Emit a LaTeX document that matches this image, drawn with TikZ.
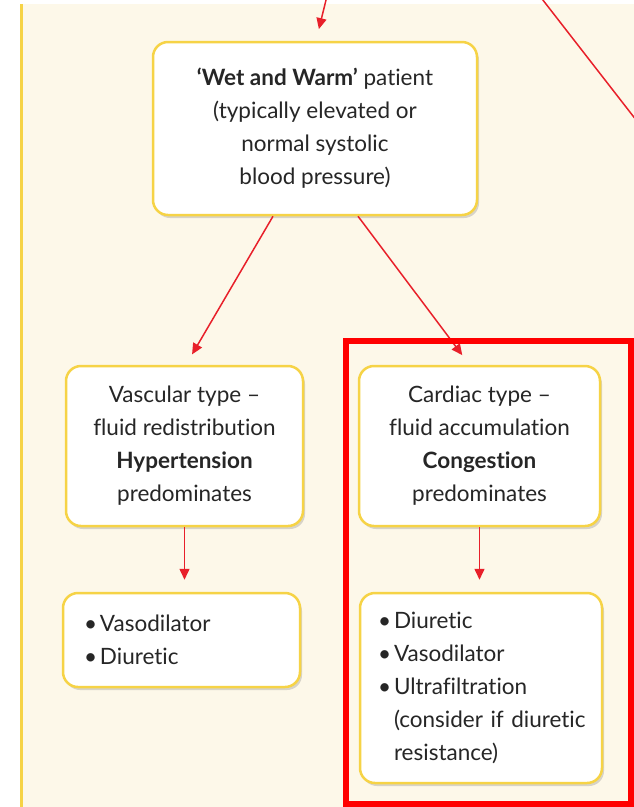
\documentclass[tikz,border=0pt]{standalone}
\usepackage{fontspec}
\setmainfont{Lato}[Ligatures=NoCommon]
\usetikzlibrary{arrows.meta,shadows,calc}
\definecolor{cream}{HTML}{FDF8E9}
\definecolor{boxyellow}{HTML}{F6D346}
\definecolor{arrred}{HTML}{E8202A}
\definecolor{framered}{HTML}{FF0000}
\definecolor{txt}{HTML}{262626}
\newcommand\bitem[1]{\mbox{\makebox[16pt][l]{•}#1}}
\newcommand\bcont[1]{\mbox{\hspace*{16pt}#1}}
\begin{document}
\begin{tikzpicture}[x=1pt,y=-1pt,
  box/.style={draw=boxyellow, line width=2.5pt, fill=white, rounded corners=15pt,
    drop shadow={shadow xshift=2pt, shadow yshift=-3pt, opacity=0.25, fill=black!60},
    font=\fontsize{22.5}{33}\selectfont, text=txt, align=center, inner sep=0pt},
  listbox/.style={box, align=left},
  arr/.style={draw=arrred, line width=1.5pt, -{Triangle[length=11pt,width=10pt]}, shorten >=12pt},
  plainred/.style={draw=arrred, line width=1.5pt}]
\useasboundingbox (0,0) rectangle (634,807);
\fill[white] (0,0) rectangle (634,807);
\fill[cream] (22,4) rectangle (634,807);
\draw[boxyellow, line width=3pt] (21,4) -- (21,807);

\coordinate (topsrc) at (327,-4);
\coordinate (diagA) at (539,-5);
\coordinate (diagB) at (640,125);
\draw[plainred] (diagA) -- (diagB);

\node[box, minimum width=324pt, minimum height=173pt] (wet) at (315,128.5)
  {\textbf{‘Wet and Warm’} patient\\(typically elevated or\\normal systolic\\blood pressure)};
\node[box, minimum width=237pt, minimum height=160pt] (vasc) at (184.5,446)
  {Vascular type –\\fluid redistribution\\\textbf{Hypertension}\\predominates};
\node[box, minimum width=241pt, minimum height=160pt] (card) at (479.5,446)
  {Cardiac type –\\fluid accumulation\\\textbf{Congestion}\\predominates};
\node[listbox, minimum width=237pt, minimum height=94pt, text width=195pt] (listl) at (181.5,640)
  {\bitem{Vasodilator}\\\bitem{Diuretic}};
\node[listbox, minimum width=242pt, minimum height=190pt, text width=206pt] (listr) at (481,688)
  {\bitem{Diuretic}\\\bitem{Vasodilator}\\\bitem{Ultrafiltration}\\\bcont{(consider if diuretic}\\\bcont{resistance)}};

\draw[arr] (topsrc) -- ([xshift=1pt]wet.north);
\draw[arr] ([xshift=-42pt]wet.south) -- ([xshift=1.5pt]vasc.north);
\draw[arr] ([xshift=43pt]wet.south) -- ([xshift=-10pt]card.north);
\draw[arr] (vasc.south) -- (vasc.south |- listl.north);
\draw[arr] (card.south) -- (card.south |- listr.north);

\draw[framered, line width=6.5pt] (346,341) rectangle (631,804);
\end{tikzpicture}
\end{document}
